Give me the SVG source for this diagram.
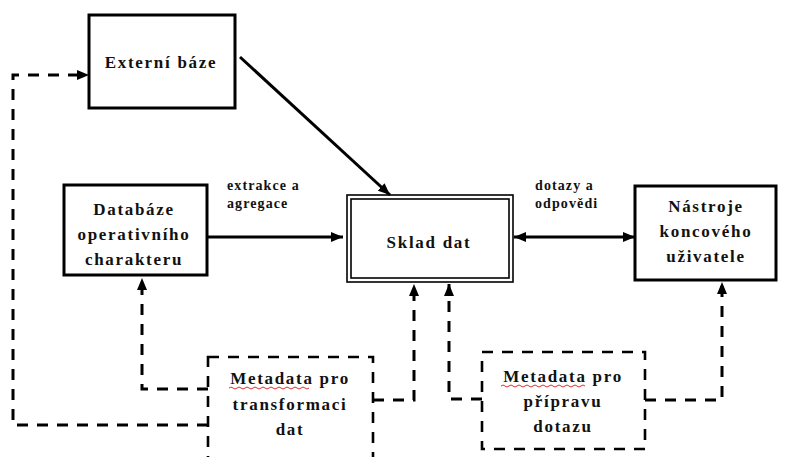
<svg xmlns="http://www.w3.org/2000/svg" width="789" height="457" viewBox="0 0 789 457">
  <style>
    .box { fill: #fff; stroke: #000; stroke-width: 3; }
    .dbox { fill: #fff; stroke: #000; stroke-width: 2.6; stroke-dasharray: 11 9; }
    .t { font-family: "Liberation Serif", "Times New Roman", serif; font-weight: bold; font-size: 17px; letter-spacing: 1.7px; fill: #111; text-anchor: middle; }
    .lbl { font-family: "Liberation Serif", "Times New Roman", serif; font-weight: bold; font-size: 14px; letter-spacing: 1.1px; fill: #111; }
    .solid { fill: none; stroke: #000; stroke-width: 3; }
    .dash { fill: none; stroke: #000; stroke-width: 3; stroke-dasharray: 11 9; }
    .squig { fill: none; stroke: #e03030; stroke-width: 1; }
  </style>
  <defs>
    <marker id="arr" viewBox="0 0 12 10" refX="12" refY="5" markerWidth="12" markerHeight="10" markerUnits="userSpaceOnUse" orient="auto-start-reverse">
      <path d="M0,0 L12,5 L0,10 Z" fill="#000"/>
    </marker>
  </defs>

  <!-- nodes -->
  <g id="externi-baze">
    <rect class="box" x="89" y="15" width="146" height="93"/>
    <text class="t" x="161" y="68">Externí báze</text>
  </g>

  <g id="databaze">
    <rect class="box" x="64" y="185" width="143" height="90" stroke-width="2.6"/>
    <text class="t" x="134" y="215">Databáze</text>
    <text class="t" x="134" y="240">operativního</text>
    <text class="t" x="134" y="265">charakteru</text>
  </g>

  <g id="sklad-dat">
    <rect x="347" y="195" width="166" height="87" fill="#fff" stroke="#000" stroke-width="1.6"/>
    <rect x="351" y="199" width="158" height="79" fill="none" stroke="#000" stroke-width="1.6"/>
    <text class="t" x="429" y="248">Sklad dat</text>
  </g>

  <g id="nastroje">
    <rect class="box" x="635" y="186" width="141" height="94"/>
    <text class="t" x="706" y="212">Nástroje</text>
    <text class="t" x="706" y="237">koncového</text>
    <text class="t" x="706" y="262">uživatele</text>
  </g>

  <g id="metadata-transformace">
    <rect class="dbox" x="208" y="357" width="165" height="110"/>
    <text class="t" x="290" y="384">Metadata pro</text>
    <text class="t" x="290" y="410">transformaci</text>
    <text class="t" x="290" y="435">dat</text>
    <path class="squig" d="M229,388 q2,-2 4,0 t4,0 t4,0 t4,0 t4,0 t4,0 t4,0 t4,0 t4,0 t4,0 t4,0 t4,0 t4,0 t4,0 t4,0 t4,0 t4,0 t4,0 t4,0 t4,0"/>
  </g>

  <g id="metadata-dotaz">
    <rect class="dbox" x="482" y="352" width="163" height="97"/>
    <text class="t" x="563" y="382">Metadata pro</text>
    <text class="t" x="563" y="407">přípravu</text>
    <text class="t" x="563" y="432">dotazu</text>
    <path class="squig" d="M501,386 q2,-2 4,0 t4,0 t4,0 t4,0 t4,0 t4,0 t4,0 t4,0 t4,0 t4,0 t4,0 t4,0 t4,0 t4,0 t4,0 t4,0 t4,0 t4,0 t4,0 t4,0 t4,0"/>
  </g>

  <!-- connectors -->
  <g id="connectors">
    <line class="solid" x1="240" y1="57" x2="390" y2="195" marker-end="url(#arr)"/>
    <line class="solid" x1="207" y1="237" x2="343" y2="237" marker-end="url(#arr)"/>
    <line class="solid" x1="514" y1="237" x2="635" y2="237" marker-start="url(#arr)" marker-end="url(#arr)"/>

    <path class="dash" d="M208,425 H13 V75 H89" marker-end="url(#arr)"/>
    <path class="dash" d="M208,389 H142 V278" marker-end="url(#arr)"/>
    <path class="dash" d="M373,400 H414 V284" marker-end="url(#arr)"/>
    <path class="dash" d="M482,399 H449 V284" marker-end="url(#arr)"/>
    <path class="dash" d="M645,400 H722 V282" marker-end="url(#arr)"/>

    <text class="lbl" x="227" y="190">extrakce a</text>
    <text class="lbl" x="227" y="208">agregace</text>
    <text class="lbl" x="535" y="190">dotazy a</text>
    <text class="lbl" x="535" y="208">odpovědi</text>
  </g>
</svg>
